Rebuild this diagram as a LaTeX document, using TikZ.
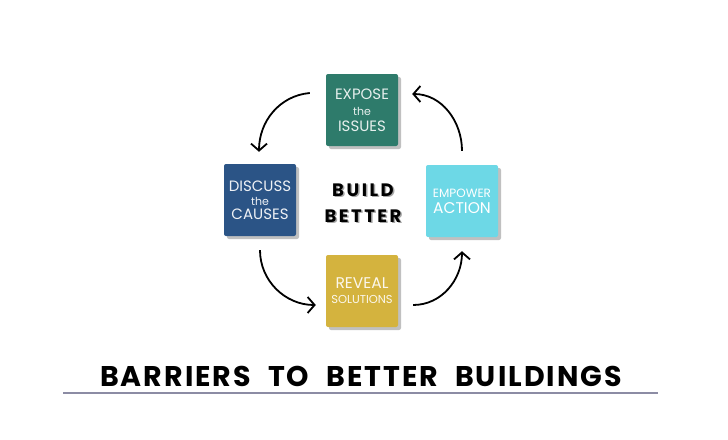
\documentclass[tikz,border=0pt]{standalone}
\usepackage{fontspec}
\setmainfont{Poppins}
\newfontfamily\boxfont{Poppins}
\usepackage{tikz}
\usetikzlibrary{arrows.meta,positioning,shadows,calc}
\definecolor{exposecol}{HTML}{2E7B6B}
\definecolor{discusscol}{HTML}{2B5486}
\definecolor{empowercol}{HTML}{6DD8E6}
\definecolor{revealcol}{HTML}{D4B33E}
\definecolor{rulecol}{HTML}{8C8CA4}
\newcommand{\smallword}[1]{\fontsize{11}{16}\selectfont #1}
\newcommand{\buildword}{B\kern2.5pt U\kern2.5pt I\kern2.5pt L\kern2.5pt D\\B\kern2.5pt E\kern2.5pt T\kern2.5pt T\kern2.5pt E\kern2.5pt R}
\begin{document}
\begin{tikzpicture}[x=1pt,y=-1pt,
stage/.style={rounded corners=2pt,minimum width=72pt,minimum height=72pt,align=center,inner sep=1pt,
  drop shadow={shadow xshift=3pt,shadow yshift=-3pt,opacity=0.35,fill=black!70}},
buildtext/.style={align=center,font=\bfseries\fontsize{18}{26}\selectfont},
cyc/.style={-{Straight Barb[length=7pt,width=16pt]},line width=1.8pt,black}]
\useasboundingbox[fill=white](0,0) rectangle (728,439);
\node[stage,fill=exposecol,text=exposecol!12,font=\boxfont\fontsize{15}{16}\selectfont](expose) at (362,110)
  {EXPOSE\\\smallword{the}\\ISSUES};
\node[stage,fill=discusscol,text=discusscol!8,font=\boxfont\fontsize{15}{14}\selectfont](discuss) at (260,200)
  {DISCUSS\\\smallword{the}\\CAUSES};
\node[stage,fill=empowercol,text=white,font=\boxfont\fontsize{15.5}{16}\selectfont](empower) at (462,201)
  {\fontsize{12}{16}\selectfont EMPOWER\\ACTION};
\node[stage,fill=revealcol,text=revealcol!10,font=\boxfont\fontsize{15.5}{15}\selectfont](reveal) at (362,291)
  {REVEAL\\\fontsize{11.5}{16}\selectfont SOLUTIONS};
% lettering with its soft shadow
\node[buildtext,text=black!35](buildshadow) at (364.5,204.5) {\buildword};
\node[buildtext](build) at (363,203) {\buildword};
\node[anchor=base,font=\bfseries\fontsize{28.5}{32}\selectfont\addfontfeature{LetterSpace=7}](title) at (361,386)
  {BARRIERS\hspace{17pt}TO\hspace{17pt}BETTER\hspace{17pt}BUILDINGS};
\draw[rulecol,line width=1.2pt](63,393)--(658,393);
% cycle arrows
\draw[cyc]([shift={(-16,-17)}]expose.west) to[out=185,in=90] ([shift={(-1,-12)}]discuss.north);
\draw[cyc]([shift={(0,14)}]discuss.south) to[out=270,in=180] ([shift={(-10,14)}]reveal.west);
\draw[cyc]([shift={(15,14)}]reveal.east) to[out=0,in=270] ([shift={(0,14)}]empower.south);
\draw[cyc]([shift={(0,-14)}]empower.north) to[out=90,in=0] ([shift={(14,-16)}]expose.east);
\end{tikzpicture}
\end{document}
